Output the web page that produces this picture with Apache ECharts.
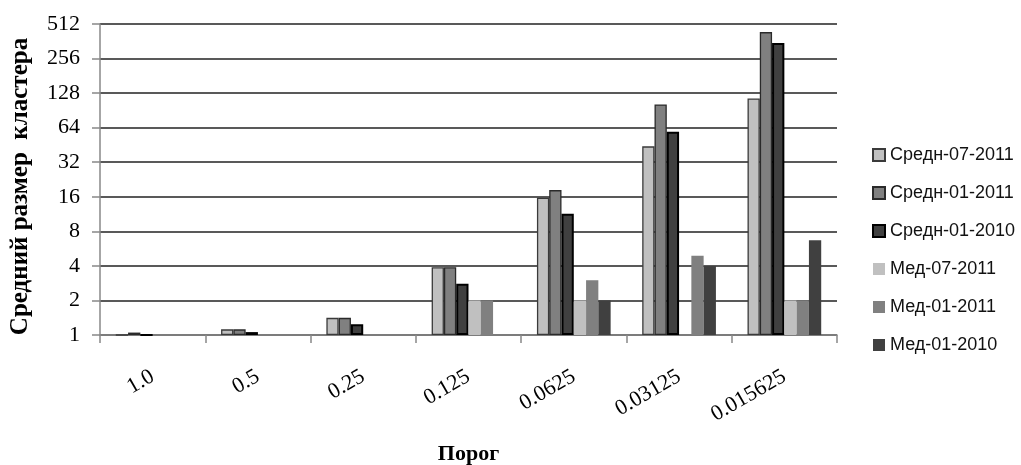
<!DOCTYPE html>
<html>
<head>
<meta charset="utf-8">
<script src="https://cdn.jsdelivr.net/npm/echarts@6/dist/echarts.min.js"></script>
<style>html,body{margin:0;padding:0;background:#fff;}#c{width:1021px;height:465px;}</style>
</head>
<body>
<div id="c"></div>
<script>
const categories = ['1.0', '0.5', '0.25', '0.125', '0.0625', '0.03125', '0.015625'];
const seriesNames = ['Средн-07-2011', 'Средн-01-2011', 'Средн-01-2010', 'Мед-07-2011', 'Мед-01-2011', 'Мед-01-2010'];
const avg072011 = [1, 1.12, 1.41, 3.9, 15.7, 44, 115];
const avg012011 = [1.05, 1.12, 1.41, 3.9, 18.3, 102, 435];
const avg012010 = [1, 1.06, 1.24, 2.8, 11.4, 59, 350];
const med072011 = [1, 1, 1, 2, 2, 1, 2];
const med012011 = [1, 1, 1, 2, 3, 4.9, 2];
const med012010 = [1, 1, 1, 1, 2, 4, 6.7];
const yTicks = [1, 2, 4, 8, 16, 32, 64, 128, 256, 512];
const xTitle = 'Порог';
const yTitle = 'Средний размер  кластера';

const seriesData = [avg072011, avg012011, avg012010, med072011, med012011, med012010];
const styles = [
  {color: '#c0c0c0', borderColor: '#3a3a3a', borderWidth: 1.3},
  {color: '#808080', borderColor: '#2a2a2a', borderWidth: 1.3},
  {color: '#404040', borderColor: '#000000', borderWidth: 2},
  {color: '#c0c0c0', borderWidth: 0},
  {color: '#808080', borderWidth: 0},
  {color: '#404040', borderWidth: 0}
];

const chart = echarts.init(document.getElementById('c'), null, {renderer: 'canvas'});
const serif = '"Liberation Serif", "Times New Roman", serif';
chart.setOption({
  backgroundColor: '#ffffff',
  animation: false,
  grid: {left: 100, right: 184, top: 24, bottom: 130, containLabel: false, outerBoundsMode: 'none'},
  legend: {
    orient: 'vertical',
    left: 867,
    top: 141,
    itemWidth: 12,
    itemHeight: 12,
    itemGap: 20,
    icon: 'rect',
    textStyle: {fontFamily: '"Liberation Sans", Arial, sans-serif', fontSize: 18, color: '#111', lineHeight: 18},
    data: seriesNames
  },
  xAxis: {
    type: 'category',
    data: categories,
    name: xTitle,
    nameLocation: 'middle',
    nameGap: 108,
    nameTextStyle: {fontFamily: serif, fontWeight: 'bold', fontSize: 22, color: '#000'},
    axisLine: {lineStyle: {color: '#888', width: 1.5}},
    axisTick: {show: true, length: 8, lineStyle: {color: '#888', width: 1.5}},
    axisLabel: {rotate: 30, margin: 40, fontFamily: serif, fontSize: 22, color: '#000'},
    splitLine: {show: false}
  },
  yAxis: {
    type: 'log',
    logBase: 2,
    min: 1,
    max: 512,
    interval: 1,
    splitNumber: 9,
    name: yTitle,
    nameLocation: 'middle',
    nameRotate: 90,
    nameGap: 67,
    nameTextStyle: {fontFamily: serif, fontWeight: 'bold', fontSize: 25, color: '#000', padding: [0, 14, 0, 0]},
    axisLine: {show: true, lineStyle: {color: '#888', width: 1.5}},
    axisTick: {show: true, length: 8, lineStyle: {color: '#888', width: 1.5}},
    axisLabel: {margin: 20, fontFamily: serif, fontSize: 22, color: '#000',
      formatter: function (v) { return yTicks.indexOf(Math.round(v)) >= 0 ? String(Math.round(v)) : ''; }},
    splitLine: {show: true, lineStyle: {color: '#222', width: 1.6}}
  },
  series: seriesNames.map(function (n, i) {
    return {
      name: n,
      type: 'bar',
      data: seriesData[i],
      barGap: '0%',
      barCategoryGap: '30%',
      itemStyle: styles[i]
    };
  })
});
</script>
</body>
</html>
